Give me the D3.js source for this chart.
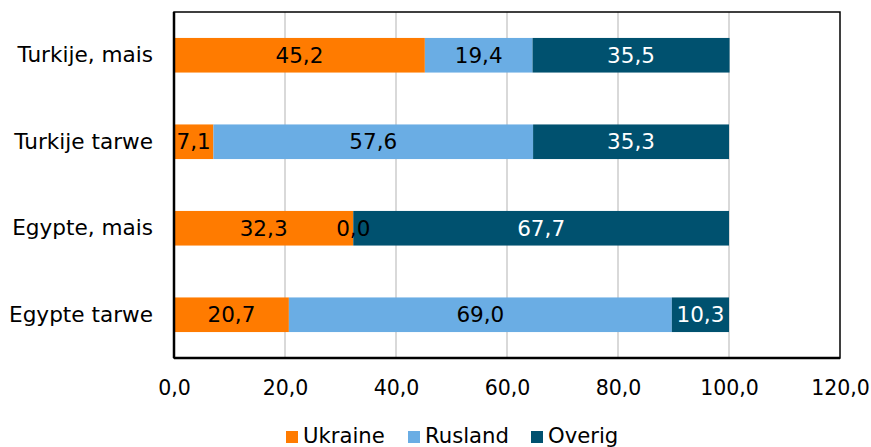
<!DOCTYPE html>
<html><head><meta charset="utf-8">
<script src="https://cdn.jsdelivr.net/npm/d3@7"></script>
<style>body{margin:0;background:#fff}svg{display:block}text{font-family:"DejaVu Sans",Verdana,sans-serif}</style>
</head><body>
<svg id="c" width="871" height="447"></svg>
<script>
const categories = ["Turkije, mais","Turkije tarwe","Egypte, mais","Egypte tarwe"];
const seriesNames = ["Ukraine","Rusland","Overig"];
const ukraine = [45.2, 7.1, 32.3, 20.7];
const rusland = [19.4, 57.6, 0.0, 69.0];
const overig = [35.5, 35.3, 67.7, 10.3];
const ticks = [0,20,40,60,80,100,120];
const colors = ["#FF7B00","#6AADE4","#00516F"];
const labelColors = ["#000","#000","#fff"];

const svg = d3.select("#c");
const L=174, R=840, T=12, B=358;
const x = d3.scaleLinear().domain([0,120]).range([L,R]);
const y = d3.scaleBand().domain(categories).range([T,B]).paddingInner(0.6).paddingOuter(0.3);

// grid
svg.append("g").selectAll("line").data(ticks.slice(1,-1)).join("line")
  .attr("x1",d=>x(d)).attr("x2",d=>x(d)).attr("y1",T).attr("y2",B)
  .attr("stroke","#d9d9d9").attr("stroke-width",2);

const data = categories.map((c,i)=>({cat:c, Ukraine:ukraine[i], Rusland:rusland[i], Overig:overig[i]}));
const stack = d3.stack().keys(seriesNames)(data);

stack.forEach((s,si)=>{
  svg.append("g").selectAll("rect").data(s).join("rect")
    .attr("x",d=>x(d[0])).attr("width",d=>x(d[1])-x(d[0]))
    .attr("y",d=>y(d.data.cat)).attr("height",y.bandwidth())
    .attr("fill",colors[si]);
});
stack.forEach((s,si)=>{
  svg.append("g").selectAll("text").data(s).join("text")
    .attr("x",d=>(x(d[0])+x(d[1]))/2).attr("y",d=>y(d.data.cat)+y.bandwidth()/2)
    .attr("dy","0.36em").attr("text-anchor","middle")
    .attr("font-size",21.5).attr("fill",labelColors[si])
    .text(d=>d3.format(".1f")(d[1]-d[0]).replace(".",","));
});

// frame
svg.append("rect").attr("x",L).attr("y",T).attr("width",R-L).attr("height",B-T)
  .attr("fill","none").attr("stroke","#000").attr("stroke-width",1.5);
svg.append("line").attr("x1",L).attr("x2",L).attr("y1",T).attr("y2",B).attr("stroke","#000").attr("stroke-width",2.5);
svg.append("line").attr("x1",L).attr("x2",R).attr("y1",B).attr("y2",B).attr("stroke","#000").attr("stroke-width",2.5);

// x axis labels
const xa = svg.append("g").attr("transform",`translate(0,${B})`)
  .call(d3.axisBottom(x).tickValues(ticks).tickSize(0).tickPadding(0).tickFormat(d=>d3.format(".1f")(d).replace(".",",")));
xa.select(".domain").remove();
xa.selectAll("text").attr("font-size",20.5).attr("font-family","DejaVu Sans").attr("fill","#000").attr("dy",null).attr("y",37);

// y axis labels
const ya = svg.append("g").attr("transform",`translate(${L},0)`)
  .call(d3.axisLeft(y).tickSize(0).tickPadding(21));
ya.select(".domain").remove();
ya.selectAll("text").attr("font-size",21.6).attr("font-family","DejaVu Sans").attr("fill","#000");

// legend
const legX = [286,408,531];
const lg = svg.append("g");
seriesNames.forEach((n,i)=>{
  lg.append("rect").attr("x",legX[i]).attr("y",431).attr("width",12).attr("height",12).attr("fill",colors[i]);
  lg.append("text").attr("x",legX[i]+17).attr("y",443).attr("font-size",21.2).text(n);
});
</script>
</body></html>
